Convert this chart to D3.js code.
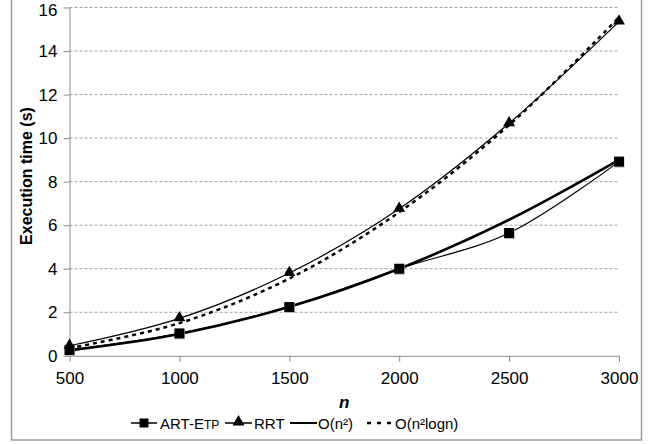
<!DOCTYPE html>
<html>
<head>
<meta charset="utf-8">
<script src="https://cdn.jsdelivr.net/npm/d3@7"></script>
<style>
  body { margin: 0; background: #fff; }
  text { font-family: "Liberation Sans", Arial, sans-serif; fill: #000; }
</style>
</head>
<body>
<div id="chart"></div>
<script>
// データ ------------------------------------------------------------------------
const ns = [500, 1000, 1500, 2000, 2500, 3000];
const artEtp = [0.27, 1.03, 2.24, 4.0, 5.64, 8.92];
const rrt = [0.46, 1.72, 3.8, 6.75, 10.68, 15.35];
const on2 = [0.25, 1.0, 2.25, 4.0, 6.25, 9.0];
const on2logn = [0.35, 1.5, 3.55, 6.6, 10.6, 15.55];
const xTicks = [500, 1000, 1500, 2000, 2500, 3000];
const yTicks = [0, 2, 4, 6, 8, 10, 12, 14, 16];

const width = 652, height = 444;
const margin = {left: 69.5, right: 33, top: 7.5, bottom: 88.2};

const svg = d3.select('#chart').append('svg')
  .attr('width', width).attr('height', height);

// 外枠
svg.append('rect')
  .attr('x', 11.5).attr('y', -5).attr('width', 630).attr('height', 445)
  .attr('fill', 'none').attr('stroke', '#9a9a9a').attr('stroke-width', 1.5);

const x = d3.scaleLinear().domain([500, 3000]).range([margin.left, width - margin.right]);
const y = d3.scaleLinear().domain([0, 16]).range([height - margin.bottom, margin.top]);

// グリッド
svg.append('g')
  .selectAll('line')
  .data(yTicks.filter(d => d > 0))
  .enter().append('line')
  .attr('x1', x(500)).attr('x2', x(3000))
  .attr('y1', d => y(d)).attr('y2', d => y(d))
  .attr('stroke', '#a0a0a0').attr('stroke-width', 1)
  .attr('stroke-dasharray', '3,2');

// 軸
const xAxis = svg.append('g')
  .attr('transform', 'translate(0,' + y(0) + ')')
  .call(d3.axisBottom(x).tickValues(xTicks).tickFormat(d3.format('d'))
    .tickSize(6).tickSizeOuter(0).tickPadding(10));
const yAxis = svg.append('g')
  .attr('transform', 'translate(' + x(500) + ',0)')
  .call(d3.axisLeft(y).tickValues(yTicks).tickSize(6).tickSizeOuter(0).tickPadding(6));
[xAxis, yAxis].forEach(a => {
  a.select('.domain').attr('stroke', '#8c8c8c');
  a.selectAll('.tick line').attr('stroke', '#8c8c8c');
  a.selectAll('text').attr('font-size', '17px').attr('font-family', '"Liberation Sans", Arial, sans-serif').attr('fill', '#000');
});
// 一番上のラベルを少し下げる
yAxis.selectAll('.tick text').filter(d => d === 16).attr('dy', '0.45em');

// 軸タイトル
svg.append('text')
  .attr('x', x(1750)).attr('y', 408)
  .attr('text-anchor', 'middle')
  .attr('font-size', '17px').attr('font-weight', 'bold').attr('font-style', 'italic')
  .text('n');
svg.append('text')
  .attr('transform', 'translate(32,' + 176 + ') rotate(-90)')
  .attr('text-anchor', 'middle')
  .attr('font-size', '16px').attr('font-weight', 'bold')
  .text('Execution time (s)');

// 線
const line = vals => d3.line()
  .x((d, i) => x(ns[i]))
  .y(d => y(d))
  .curve(d3.curveCatmullRom)(vals);

svg.append('path').attr('d', line(on2logn))
  .attr('fill', 'none').attr('stroke', '#000').attr('stroke-width', 2.5)
  .attr('stroke-dasharray', '4,4');
svg.append('path').attr('d', line(on2))
  .attr('fill', 'none').attr('stroke', '#000').attr('stroke-width', 2.6);
svg.append('path').attr('d', line(rrt))
  .attr('fill', 'none').attr('stroke', '#000').attr('stroke-width', 1.2);
svg.append('path').attr('d', line(artEtp))
  .attr('fill', 'none').attr('stroke', '#000').attr('stroke-width', 1.2);

// マーカー
const tri = d3.symbol().type(d3.symbolTriangle).size(62);
svg.append('g').selectAll('path')
  .data(rrt).enter().append('path')
  .attr('d', tri)
  .attr('transform', (d, i) => 'translate(' + x(ns[i]) + ',' + (y(d) - 0.5) + ')')
  .attr('fill', '#000');
const sq = svg.append('g');
sq.selectAll('rect.sh')
  .data(artEtp).enter().append('rect')
  .attr('x', (d, i) => x(ns[i]) - 4.5).attr('y', d => y(d) - 4)
  .attr('width', 10).attr('height', 10).attr('fill', '#bbb');
sq.selectAll('rect.mk')
  .data(artEtp).enter().append('rect')
  .attr('x', (d, i) => x(ns[i]) - 5).attr('y', d => y(d) - 5)
  .attr('width', 10).attr('height', 10).attr('fill', '#000');

// 凡例
const ly = 423;
const lg = svg.append('g');
lg.append('line').attr('x1', 131).attr('x2', 157).attr('y1', ly).attr('y2', ly)
  .attr('stroke', '#000').attr('stroke-width', 1.5);
lg.append('rect').attr('x', 139.5).attr('y', ly - 4.5).attr('width', 9).attr('height', 9).attr('fill', '#000');
const t1 = lg.append('text').attr('x', 160).attr('y', ly + 5.5).attr('font-size', '15px');
t1.append('tspan').text('ART-E');
t1.append('tspan').attr('font-size', '12px').text('TP');

lg.append('line').attr('x1', 225).attr('x2', 252).attr('y1', ly).attr('y2', ly)
  .attr('stroke', '#000').attr('stroke-width', 1.5);
lg.append('path').attr('d', tri).attr('transform', 'translate(238.5,' + (ly - 1) + ')').attr('fill', '#000');
lg.append('text').attr('x', 254).attr('y', ly + 5.5).attr('font-size', '15px').text('RRT');

lg.append('line').attr('x1', 290).attr('x2', 317).attr('y1', ly).attr('y2', ly)
  .attr('stroke', '#000').attr('stroke-width', 2);
lg.append('text').attr('x', 318).attr('y', ly + 5.5).attr('font-size', '15px').text('O(n²)');

lg.append('line').attr('x1', 367).attr('x2', 394).attr('y1', ly).attr('y2', ly)
  .attr('stroke', '#000').attr('stroke-width', 2.5).attr('stroke-dasharray', '4,6');
lg.append('text').attr('x', 395).attr('y', ly + 5.5).attr('font-size', '15px').text('O(n²logn)');
</script>
</body>
</html>
